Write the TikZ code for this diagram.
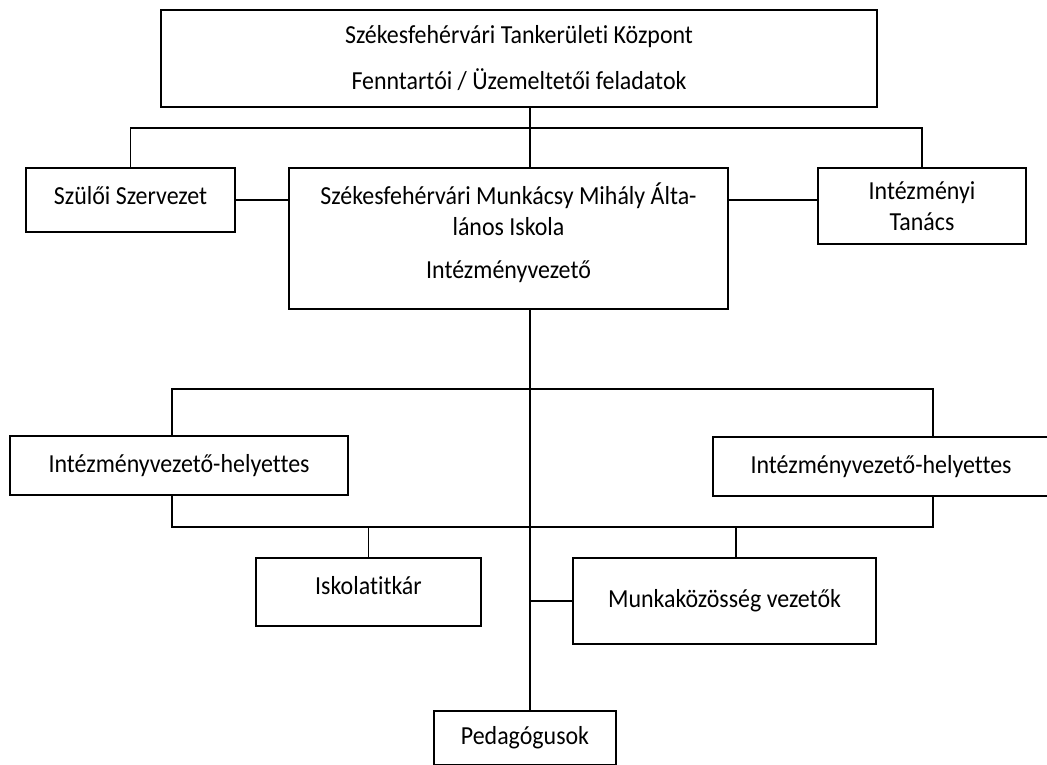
\documentclass[tikz,border=0pt]{standalone}
\usepackage{fontspec}
\setmainfont[FakeStretch=0.92, Ligatures=NoCommon]{Carlito}
\usepackage{tikz}
\usetikzlibrary{calc}

\begin{document}
\begin{tikzpicture}[x=1pt, y=-1pt, line width=1.7pt,
  box/.style={draw, rectangle, align=center, inner sep=0pt, font=\fontsize{26}{31}\selectfont}]
\clip (0, 0) rectangle (1047, 764);

\node[box, minimum width=716pt, minimum height=97pt] (tk) at (519, 58.5)
  {Székesfehérvári Tankerületi Központ\\[15pt]Fenntartói / Üzemeltetői feladatok};
\node[box, minimum width=209pt, minimum height=64pt, text depth=10pt] (szulo) at (130.5, 200) {Szülői Szervezet};
\node[box, minimum width=439pt, minimum height=141pt, text depth=16pt] (iskola) at (508.5, 238.5)
  {Székesfehérvári Munkácsy Mihály Álta-\\lános Iskola\\[12pt]Intézményvezető};
\node[box, minimum width=208pt, minimum height=76pt] (tanacs) at (922, 206) {Intézményi\\Tanács};
\node[box, minimum width=338pt, minimum height=59pt] (helyL) at (179, 465.5) {Intézményvezető-helyettes};
\node[box, minimum width=336pt, minimum height=59pt] (helyR) at (881, 466.5) {Intézményvezető-helyettes};
\node[box, minimum width=225pt, minimum height=68pt, text depth=14pt] (titkar) at (368.5, 592) {Iskolatitkár};
\node[box, minimum width=303pt, minimum height=86pt] (mkv) at (724.5, 601) {Munkaközösség vezetők};
\node[box, minimum width=182pt, minimum height=54pt] (ped) at (525, 738) {Pedagógusok};

\coordinate (gerinc) at (530, 128);
\coordinate (buszL) at (172, 389);
\coordinate (buszR) at (933, 389);
\coordinate (alsoR) at (933, 527);
\coordinate (mkle) at (736, 527);

\draw (tk.south -| gerinc) -- (iskola.north -| gerinc);
\draw (szulo.north) |- (gerinc) -| (tanacs.north);
\draw (szulo.east) -- (iskola.west |- szulo.east);
\draw (iskola.east |- szulo.east) -- (tanacs.west |- szulo.east);
\draw (iskola.south -| gerinc) -- (ped.north -| gerinc);
\draw (helyL.north -| buszL) |- (buszR) -- (helyR.north -| buszR);
\draw (helyL.south -| buszL) |- (alsoR) -- (helyR.south -| alsoR);
\draw (titkar.north) -- (titkar.north |- alsoR);
\draw (mkle) -- (mkv.north -| mkle);
\draw (mkv.west) -- (mkv.west -| gerinc);
\end{tikzpicture}
\end{document}
